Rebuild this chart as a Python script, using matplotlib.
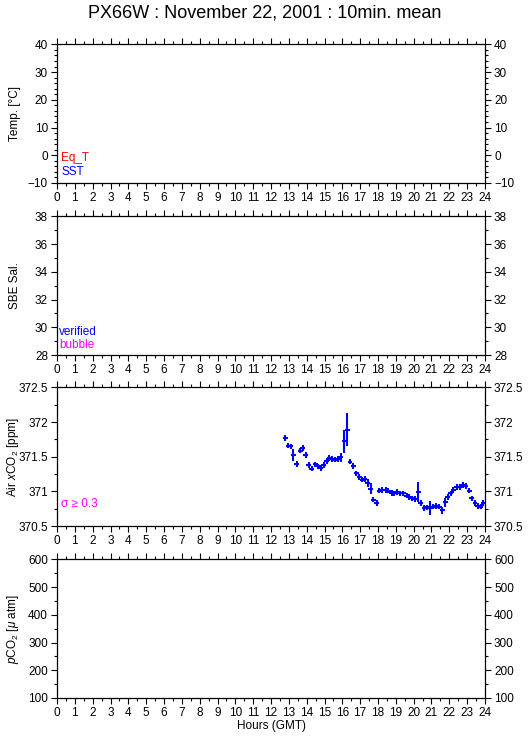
import numpy as np
import matplotlib.pyplot as plt
from matplotlib.ticker import MultipleLocator

plt.rcParams['font.family'] = ['Liberation Sans', 'DejaVu Sans']
plt.rcParams['mathtext.fontset'] = 'custom'
plt.rcParams['mathtext.rm'] = 'Liberation Sans'
plt.rcParams['mathtext.it'] = 'Liberation Sans:italic'

# Air xCO2, 10 min means (hours GMT, ppm, std)
hours = [12.79, 12.97, 13.10, 13.26, 13.44, 13.63, 13.78, 13.96, 14.13, 14.28,
         14.47, 14.62, 14.79, 14.97, 15.12, 15.27, 15.42, 15.59, 15.74, 15.91,
         16.10, 16.28, 16.43, 16.62, 16.77, 16.94, 17.12, 17.27, 17.42, 17.59,
         17.74, 17.93, 18.08, 18.25, 18.43, 18.58, 18.77, 18.92, 19.09, 19.24,
         19.42, 19.61, 19.76, 19.93, 20.08, 20.26, 20.41, 20.58, 20.73, 20.92,
         21.10, 21.26, 21.44, 21.61, 21.76, 21.91, 22.08, 22.23, 22.42, 22.60,
         22.75, 22.92, 23.11, 23.26, 23.44, 23.59, 23.76, 23.90]
air_xco2 = [371.77, 371.66, 371.65, 371.53, 371.40, 371.59, 371.63, 371.53, 371.38, 371.33,
            371.39, 371.36, 371.34, 371.38, 371.44, 371.48, 371.47, 371.46, 371.47, 371.49,
            371.72, 371.89, 371.43, 371.37, 371.26, 371.21, 371.17, 371.18, 371.12, 371.04,
            370.88, 370.83, 371.01, 371.02, 371.02, 371.01, 370.98, 370.97, 370.99, 370.97,
            370.97, 370.94, 370.92, 370.90, 370.89, 370.99, 370.83, 370.76, 370.77, 370.76,
            370.78, 370.79, 370.78, 370.73, 370.84, 370.92, 370.97, 371.02, 371.06, 371.06,
            371.09, 371.08, 371.01, 370.90, 370.83, 370.79, 370.78, 370.83]
air_std = [0.04, 0.04, 0.04, 0.085, 0.045, 0.04, 0.04, 0.045, 0.04, 0.04,
           0.04, 0.04, 0.04, 0.04, 0.04, 0.04, 0.04, 0.04, 0.04, 0.065,
           0.165, 0.24, 0.04, 0.04, 0.04, 0.04, 0.04, 0.04, 0.06, 0.085,
           0.04, 0.04, 0.04, 0.04, 0.04, 0.04, 0.04, 0.04, 0.04, 0.04,
           0.04, 0.04, 0.04, 0.04, 0.04, 0.14, 0.04, 0.04, 0.04, 0.10,
           0.04, 0.04, 0.04, 0.05, 0.07, 0.04, 0.04, 0.04, 0.04, 0.04,
           0.04, 0.04, 0.04, 0.04, 0.04, 0.04, 0.04, 0.04]

hour_ticks = list(range(0, 25))
ylabels = ['Temp. [°C]', 'SBE Sal.', 'Air $x$CO$_2$ [ppm]', r'$p$CO$_2$ [$\mu$ atm]']
ylims = [(-10, 40), (28, 38), (370.5, 372.5), (100, 600)]
ymajor = [10, 2, 0.5, 100]
yminor = [2, 1, 0.25, 50]

fig = plt.figure(figsize=(5.29, 7.39), dpi=100)
fig.text(0.5, 0.983, 'PX66W : November 22, 2001 : 10min. mean',
         ha='center', va='center', fontsize=13)

bottoms = [0.7524, 0.5196, 0.2882, 0.0555]
axes = []
for i, b in enumerate(bottoms):
    ax = fig.add_axes([0.1078, b, 0.809, 0.1875])
    ax.set_xlim(0, 24)
    ax.set_ylim(*ylims[i])
    ax.set_xticks(hour_ticks)
    ax.xaxis.set_minor_locator(MultipleLocator(0.5))
    ax.yaxis.set_major_locator(MultipleLocator(ymajor[i]))
    ax.yaxis.set_minor_locator(MultipleLocator(yminor[i]))
    ax.tick_params(which='both', direction='out', top=True, right=True,
                   labelright=True, labelsize=8.5, width=0.8, pad=2)
    ax.tick_params(which='major', length=4.5)
    ax.tick_params(which='minor', length=2.5)
    for s in ax.spines.values():
        s.set_linewidth(0.9)
    ax.set_ylabel(ylabels[i], fontsize=8.5)
    ax.yaxis.set_label_coords(-0.085, 0.5)
    if i == 2:
        ax.yaxis.set_major_formatter(plt.FuncFormatter(lambda v, p: f'{v:g}'))
    axes.append(ax)

axes[0].text(0.01, 0.18, 'Eq_T', color='red', fontsize=8.5, transform=axes[0].transAxes, va='center')
axes[0].text(0.01, 0.08, 'SST', color='blue', fontsize=8.5, transform=axes[0].transAxes, va='center')
axes[1].text(0.005, 0.165, 'verified', color='blue', fontsize=8.5, transform=axes[1].transAxes, va='center')
axes[1].text(0.005, 0.07, 'bubble', color='magenta', fontsize=8.5, transform=axes[1].transAxes, va='center')
axes[2].text(0.01, 0.16, 'σ ≥ 0.3', color='magenta', fontsize=8.5, transform=axes[2].transAxes, va='center')

axes[2].errorbar(hours, air_xco2, yerr=air_std, xerr=0.14, fmt='none',
                 ecolor='blue', elinewidth=1.5, capsize=0)

axes[3].set_xlabel('Hours (GMT)', fontsize=8.5, labelpad=1)

fig.savefig('out.png', dpi=100)
